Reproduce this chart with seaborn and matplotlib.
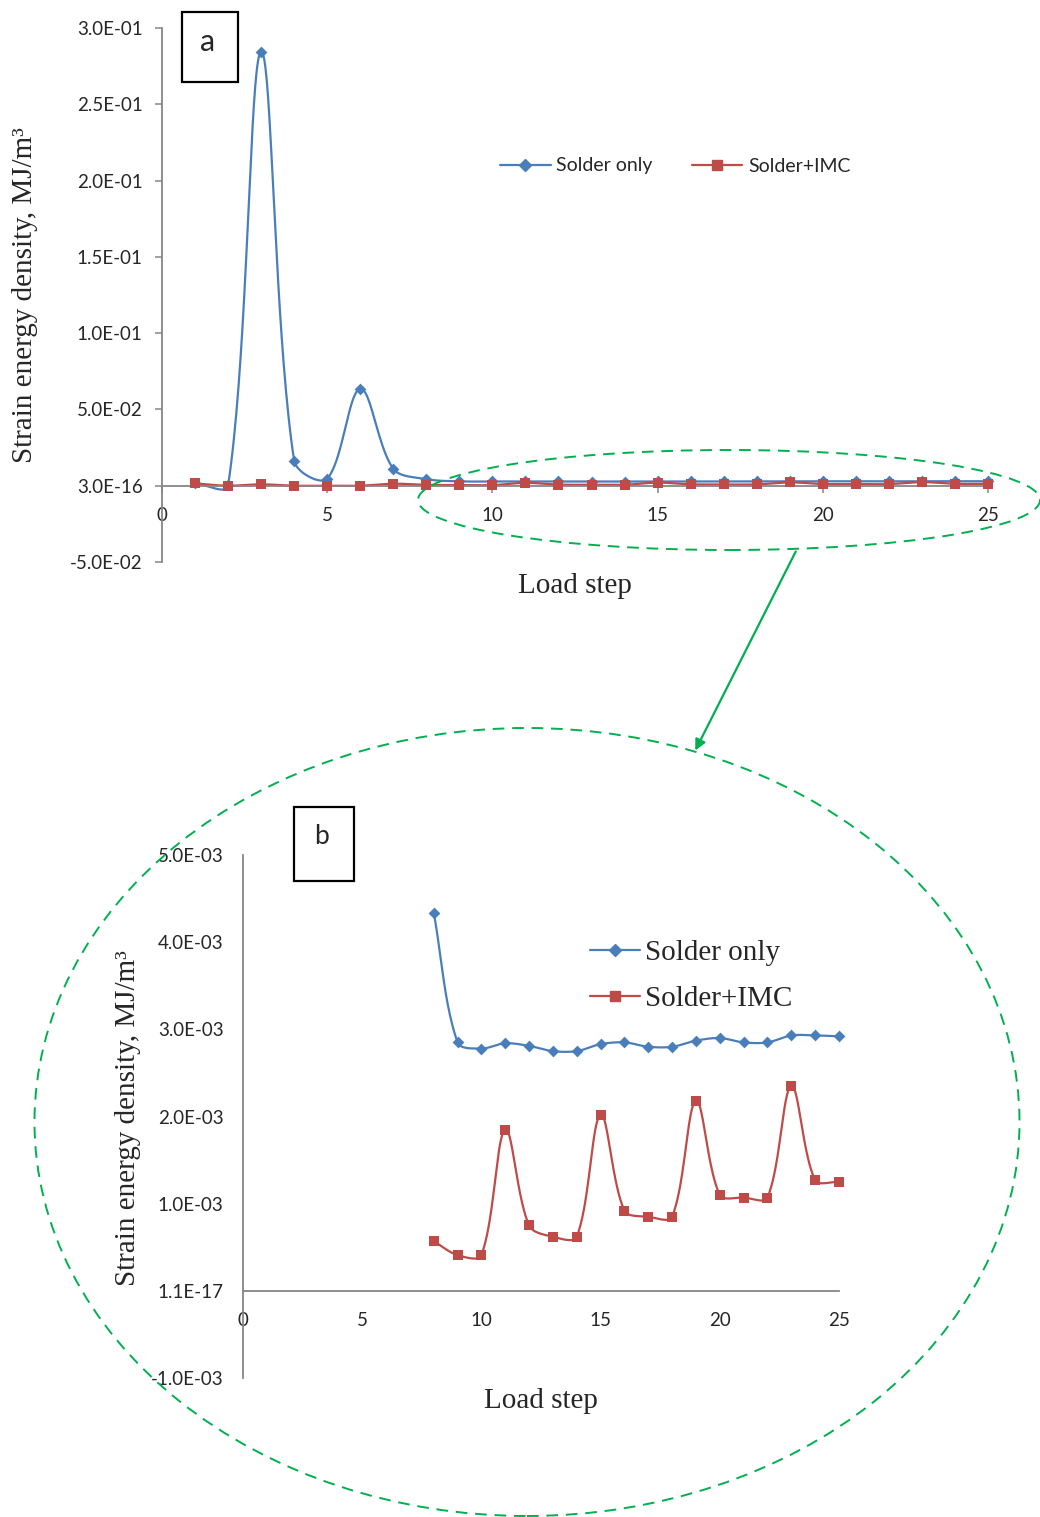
import numpy as np
import pandas as pd
import matplotlib
matplotlib.use("Agg")
import matplotlib.pyplot as plt
import seaborn as sns
from matplotlib.patches import Ellipse, Rectangle, FancyArrowPatch
from matplotlib.lines import Line2D

# ---------------- data ----------------
load_step = list(range(1, 26))
solder_only = [0.0015, 0.0002, 0.2845, 0.0164, 0.0046, 0.0636, 0.0111, 0.00434,
               0.00285, 0.00278, 0.00284, 0.00281, 0.00275, 0.00275, 0.00283,
               0.00285, 0.00280, 0.00280, 0.00287, 0.00290, 0.00285, 0.00285,
               0.00293, 0.00293, 0.00292]
solder_imc = [0.0015, 0.0, 0.0009, 0.0, 0.0, 0.0, 0.0013, 0.00057,
              0.00041, 0.00041, 0.00185, 0.00075, 0.00062, 0.00062, 0.00202,
              0.00092, 0.00085, 0.00085, 0.00218, 0.00110, 0.00107, 0.00107,
              0.00235, 0.00127, 0.00125]
series_names = ["Solder only", "Solder+IMC"]
zoom_start_step = 8

x_ticks = [0, 5, 10, 15, 20, 25]
x_ticklabels = ["0", "5", "10", "15", "20", "25"]
a_yticks = [-0.05, 0.0, 0.05, 0.10, 0.15, 0.20, 0.25, 0.30]
a_yticklabels = ["-5.0E-02", "3.0E-16", "5.0E-02", "1.0E-01", "1.5E-01",
                 "2.0E-01", "2.5E-01", "3.0E-01"]
b_yticks = [-0.001, 0.0, 0.001, 0.002, 0.003, 0.004, 0.005]
b_yticklabels = ["-1.0E-03", "1.1E-17", "1.0E-03", "2.0E-03", "3.0E-03",
                 "4.0E-03", "5.0E-03"]
ylabel_text = "Strain energy density, MJ/m³"
xlabel_text = "Load step"

# ---------------- style ----------------
sns.set_theme(style="white")
plt.rcParams["font.family"] = ["Lato", "DejaVu Sans"]
BLUE = "#4A7EBB"
RED = "#BE4B48"
GREEN = "#00B050"
AXGREY = "#868686"
SERIF = ["Liberation Serif", "DejaVu Serif"]

W, H = 1040, 1517
fig = plt.figure(figsize=(W / 100, H / 100), dpi=100)


def fx(px):
    return px / W


def fy(py):
    return 1 - py / H


def smooth_curve(ax, xs, ys, n=40):
    """Excel-like smoothed line (chord-weighted cubic Bezier) in display space."""
    pts = ax.transData.transform(np.column_stack([xs, ys]).astype(float))
    N = len(pts)
    out = [pts[0]]
    for i in range(N - 1):
        p0 = pts[i - 1] if i > 0 else pts[i]
        p1 = pts[i]
        p2 = pts[i + 1]
        p3 = pts[i + 2] if i + 2 < N else pts[i + 1]
        d01 = np.linalg.norm(p1 - p0)
        d12 = np.linalg.norm(p2 - p1)
        d23 = np.linalg.norm(p3 - p2)
        f1 = d12 / (d01 + d12) / 3 if (d01 + d12) > 0 else 0
        f2 = d12 / (d12 + d23) / 3 if (d12 + d23) > 0 else 0
        c1 = p1 + (p2 - p0) * f1
        c2 = p2 - (p3 - p1) * f2
        t = np.linspace(0, 1, n)[1:, None]
        seg = ((1 - t) ** 3) * p1 + 3 * ((1 - t) ** 2) * t * c1 + \
            3 * (1 - t) * t ** 2 * c2 + t ** 3 * p2
        out.extend(seg)
    out = np.array(out)
    data = ax.transData.inverted().transform(out)
    return data[:, 0], data[:, 1]


def style_axes(ax, ylim, yticks, yticklabels, tick_len, xpad, ypad):
    ax.set_xlim(0, 25)
    ax.set_ylim(*ylim)
    for s in ["top", "right"]:
        ax.spines[s].set_visible(False)
    ax.spines["bottom"].set_position(("data", 0))
    ax.spines["left"].set_position(("data", 0))
    for s in ["bottom", "left"]:
        ax.spines[s].set_color(AXGREY)
        ax.spines[s].set_linewidth(1.3)
    ax.set_xticks(x_ticks)
    ax.set_xticklabels(x_ticklabels)
    ax.set_yticks(yticks)
    ax.set_yticklabels(yticklabels)
    ax.tick_params(axis="x", length=tick_len, width=1.1, color=AXGREY,
                   direction="out", labelsize=13.5, pad=xpad, bottom=True)
    ax.tick_params(axis="y", length=tick_len, width=1.1, color=AXGREY,
                   direction="out", labelsize=13.5, pad=ypad, left=True)
    ax.set_facecolor("none")
    ax.grid(False)


def draw_series(ax, xs, ys, color, marker, msize, lw):
    cx, cy = smooth_curve(ax, xs, ys)
    df = pd.DataFrame({"x": cx, "y": cy})
    sns.lineplot(data=df, x="x", y="y", ax=ax, sort=False, estimator=None,
                 color=color, linewidth=lw, clip_on=False)
    sns.scatterplot(x=xs, y=ys, ax=ax, marker=marker, s=msize ** 2,
                    color=color, edgecolor=color, linewidth=0, zorder=5,
                    clip_on=False)


# ---------------- panel a ----------------
axa = fig.add_axes([fx(162), fy(562), fx(988) - fx(162), (562 - 28) / H])
style_axes(axa, (-0.05, 0.30), a_yticks, a_yticklabels, 5, 10, 9)
draw_series(axa, load_step, solder_only, BLUE, "D", 6.0, 1.6)
draw_series(axa, load_step, solder_imc, RED, "s", 7.5, 1.6)
axa.set_xlabel("")
axa.set_ylabel("")

handles_a = [Line2D([], [], color=BLUE, marker="D", markersize=6, lw=1.6),
             Line2D([], [], color=RED, marker="s", markersize=7.5, lw=1.6)]
fig.legend(handles_a, series_names, loc="center left",
           bbox_to_anchor=(fx(500), fy(166)), bbox_transform=fig.transFigure,
           ncol=2, frameon=False, fontsize=14, handlelength=2.6,
           handletextpad=0.3, columnspacing=2.0, borderpad=0,
           borderaxespad=0)

fig.text(fx(25), fy(295), ylabel_text, rotation=90, ha="center",
         va="center", fontsize=21, family=SERIF)
fig.text(fx(575), fy(586), xlabel_text, ha="center", va="center",
         fontsize=21, family=SERIF)

# ---------------- panel b ----------------
zb_x = [s for s in load_step if s >= zoom_start_step]
zb_so = [v for s, v in zip(load_step, solder_only) if s >= zoom_start_step]
zb_si = [v for s, v in zip(load_step, solder_imc) if s >= zoom_start_step]

axb = fig.add_axes([fx(243), fy(1378), fx(839) - fx(243), (1378 - 855) / H])
style_axes(axb, (-0.001, 0.005), b_yticks, b_yticklabels, 0, 15, 14)
draw_series(axb, zb_x, zb_so, BLUE, "D", 6.0, 1.6)
draw_series(axb, zb_x, zb_si, RED, "s", 7.5, 1.6)
axb.set_xlabel("")
axb.set_ylabel("")

handles_b = [Line2D([], [], color=BLUE, marker="D", markersize=6, lw=1.6),
             Line2D([], [], color=RED, marker="s", markersize=7.5, lw=1.6)]
fig.legend(handles_b, series_names, loc="center left",
           bbox_to_anchor=(fx(590), fy(976)), bbox_transform=fig.transFigure,
           ncol=1, frameon=False, handlelength=1.7,
           handletextpad=0.2, labelspacing=0.68, borderpad=0,
           borderaxespad=0, prop={"family": SERIF, "size": 21})

fig.text(fx(128), fy(1118), ylabel_text, rotation=90, ha="center",
         va="center", fontsize=21, family=SERIF)
fig.text(fx(541), fy(1401), xlabel_text, ha="center", va="center",
         fontsize=21, family=SERIF)

# ---------------- annotations ----------------
for (l, t, r, b) in [(182, 12, 238, 82), (294, 807, 354, 881)]:
    fig.patches.append(Rectangle((fx(l), fy(b)), fx(r) - fx(l), (b - t) / H,
                                 transform=fig.transFigure, fill=False,
                                 edgecolor="black", linewidth=1.6))
fig.text(fx(208), fy(42), "a", ha="center", va="center", fontsize=22)
fig.text(fx(322), fy(837), "b", ha="center", va="center", fontsize=19)

fig.patches.append(Ellipse((fx(729), fy(500)), fx(622), 100 / H,
                           transform=fig.transFigure, fill=False,
                           edgecolor=GREEN, linewidth=1.4,
                           linestyle=(0, (6, 4)), zorder=10))
fig.patches.append(Ellipse((fx(527), fy(1122)), fx(985), 788 / H,
                           transform=fig.transFigure, fill=False,
                           edgecolor=GREEN, linewidth=1.4,
                           linestyle=(0, (6, 4)), zorder=10))
fig.patches.append(FancyArrowPatch((fx(797), fy(549)), (fx(694), fy(753)),
                                   transform=fig.transFigure,
                                   arrowstyle="-|>", mutation_scale=16,
                                   color=GREEN, linewidth=1.6, zorder=10))

fig.savefig("out.png", dpi=100, facecolor="white")
